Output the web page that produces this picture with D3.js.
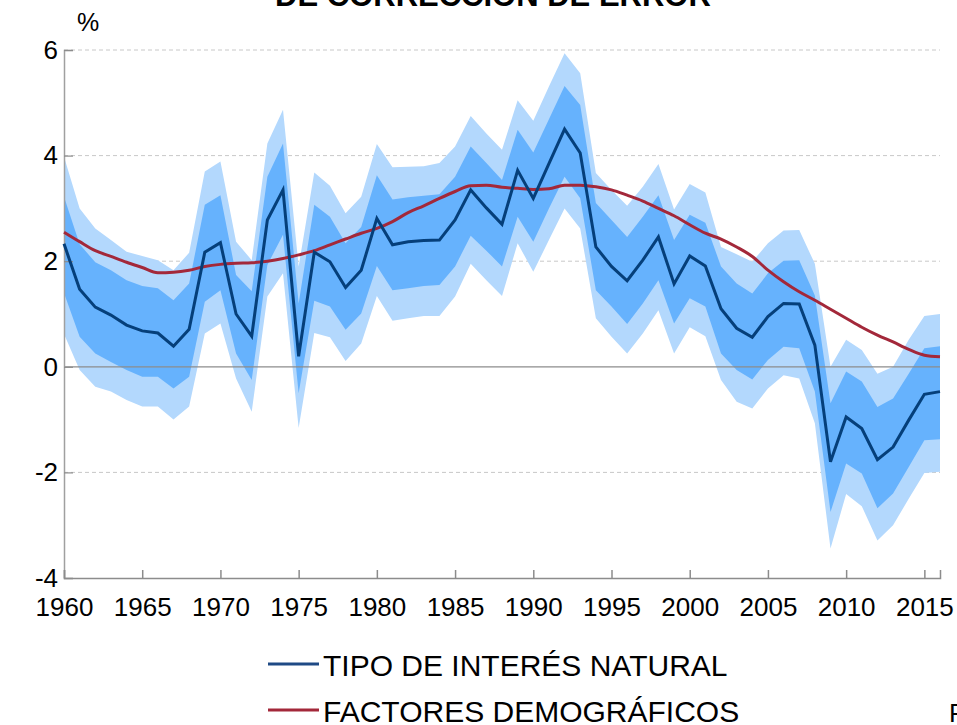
<!DOCTYPE html>
<html>
<head>
<meta charset="utf-8">
<script src="https://cdn.jsdelivr.net/npm/d3@7"></script>
<style>
  body { margin: 0; background: #fff; }
  svg { display: block; font-family: "Liberation Sans", Arial, sans-serif; }
</style>
</head>
<body>
<div id="chart"></div>
<script>
// Years on the x axis
const years = [1960,1961,1962,1963,1964,1965,1966,1967,1968,1969,
               1970,1971,1972,1973,1974,1975,1976,1977,1978,1979,
               1980,1981,1982,1983,1984,1985,1986,1987,1988,1989,
               1990,1991,1992,1993,1994,1995,1996,1997,1998,1999,
               2000,2001,2002,2003,2004,2005,2006,2007,2008,2009,
               2010,2011,2012,2013,2014,2015,2016];

// Natural rate of interest (central estimate)
const naturalRate = [2.33,1.47,1.13,0.98,0.79,0.68,0.64,0.39,0.71,2.17,
                     2.35,1.00,0.58,2.78,3.35,0.20,2.17,1.99,1.50,1.83,
                     2.81,2.31,2.37,2.39,2.40,2.78,3.35,3.01,2.70,3.72,
                     3.19,3.85,4.50,4.05,2.27,1.90,1.63,2.02,2.46,1.57,
                     2.10,1.91,1.10,0.73,0.56,0.95,1.20,1.19,0.41,-1.80,
                     -0.95,-1.17,-1.76,-1.52,-1.01,-0.52,-0.47];

// Outer band (light blue)
const outerHigh = [3.98,3.00,2.62,2.40,2.18,2.10,2.02,1.83,2.16,3.70,
                   3.89,2.37,2.02,4.23,4.87,1.90,3.68,3.43,2.91,3.22,
                   4.22,3.78,3.79,3.80,3.86,4.17,4.75,4.42,4.11,5.05,
                   4.66,5.31,5.94,5.56,3.67,3.35,3.05,3.41,3.84,2.98,
                   3.46,3.30,2.27,2.13,1.99,2.34,2.58,2.59,1.95,0.00,
                   0.51,0.32,-0.13,0.00,0.51,0.96,1.00];
const outerLow = [0.62,-0.06,-0.38,-0.47,-0.63,-0.75,-0.75,-1.00,-0.75,0.63,
                  0.82,-0.22,-0.85,1.33,1.77,-1.16,0.64,0.56,0.11,0.44,
                  1.34,0.87,0.92,0.96,0.96,1.33,1.95,1.64,1.34,2.34,
                  1.80,2.40,3.00,2.62,0.92,0.57,0.25,0.63,1.07,0.25,
                  0.75,0.58,-0.25,-0.66,-0.79,-0.41,-0.16,-0.22,-1.07,-3.44,
                  -2.41,-2.64,-3.29,-3.00,-2.50,-2.01,-1.99];

// Inner band (mid blue)
const innerHigh = [3.22,2.32,1.98,1.83,1.64,1.53,1.49,1.26,1.58,3.07,
                   3.25,1.74,1.43,3.60,4.23,1.20,3.07,2.84,2.34,2.65,
                   3.63,3.17,3.21,3.24,3.27,3.60,4.17,3.86,3.54,4.49,
                   4.06,4.69,5.32,4.96,3.10,2.78,2.46,2.84,3.25,2.40,
                   2.88,2.73,1.90,1.58,1.39,1.77,2.01,2.02,1.35,-0.69,
                   -0.09,-0.28,-0.76,-0.60,-0.13,0.35,0.39];
const innerLow = [1.40,0.57,0.25,0.09,-0.06,-0.19,-0.19,-0.41,-0.19,1.23,
                  1.45,0.25,-0.25,1.93,2.50,-0.50,1.25,1.14,0.70,1.01,
                  1.91,1.45,1.49,1.53,1.55,1.90,2.48,2.20,1.90,2.84,
                  2.37,3.00,3.60,3.19,1.45,1.14,0.81,1.20,1.64,0.82,
                  1.30,1.14,0.25,-0.06,-0.24,0.13,0.38,0.35,-0.47,-2.75,
                  -1.83,-2.02,-2.68,-2.40,-1.90,-1.39,-1.37];

// Demographic factors
const demographic = [2.55,2.37,2.20,2.09,1.98,1.88,1.78,1.79,1.83,1.90,
                     1.94,1.96,1.97,2.00,2.05,2.12,2.20,2.31,2.42,2.53,
                     2.62,2.75,2.92,3.05,3.19,3.32,3.43,3.44,3.40,3.38,
                     3.36,3.37,3.44,3.44,3.41,3.35,3.25,3.14,3.00,2.86,
                     2.69,2.53,2.42,2.27,2.09,1.83,1.61,1.42,1.26,1.09,
                     0.92,0.75,0.60,0.47,0.33,0.22,0.19];

const yTicks = [-4, -2, 0, 2, 4, 6];
const xTicks = [1960,1965,1970,1975,1980,1985,1990,1995,2000,2005,2010,2015];
const seriesNames = ['TIPO DE INTERÉS NATURAL', 'FACTORES DEMOGRÁFICOS'];

const width = 957, height = 725;
const plot = { left: 64, right: 940, top: 50, bottom: 578 };

const svg = d3.select('#chart').append('svg')
    .attr('width', width)
    .attr('height', height);

const x = d3.scaleLinear().domain([1960, 2016]).range([plot.left, plot.right]);
const y = d3.scaleLinear().domain([-4, 6]).range([plot.bottom, plot.top]);

const rows = years.map((yr, i) => ({
    year: yr, mid: naturalRate[i],
    oh: outerHigh[i], ol: outerLow[i],
    ih: innerHigh[i], il: innerLow[i],
    demo: demographic[i]
}));

// Title (cut off at the top in the original)
svg.append('text')
    .attr('x', 493).attr('y', 6)
    .attr('text-anchor', 'middle')
    .style('font-size', '31px')
    .style('font-weight', 'bold')
    .text('DE CORRECCIÓN DE ERROR');

// Gridlines
svg.append('g').selectAll('line')
    .data(yTicks.filter(t => t !== -4 && t !== 0))
    .enter().append('line')
    .attr('x1', plot.left).attr('x2', plot.right)
    .attr('y1', d => y(d)).attr('y2', d => y(d))
    .attr('stroke', '#c8c8c8')
    .attr('stroke-width', 1)
    .attr('stroke-dasharray', '4,3');

// Bands
const outerArea = d3.area().x(d => x(d.year)).y0(d => y(d.ol)).y1(d => y(d.oh));
const innerArea = d3.area().x(d => x(d.year)).y0(d => y(d.il)).y1(d => y(d.ih));

svg.append('path').datum(rows)
    .attr('d', outerArea)
    .attr('fill', '#b3d8fd');
svg.append('path').datum(rows)
    .attr('d', innerArea)
    .attr('fill', '#66b2fd');

// Zero line
svg.append('line')
    .attr('x1', plot.left).attr('x2', plot.right)
    .attr('y1', y(0)).attr('y2', y(0))
    .attr('stroke', '#8c8c8c')
    .attr('stroke-width', 1.2);

// Axes
const yAxis = d3.axisLeft(y).tickValues(yTicks).tickSize(-9).tickPadding(15).tickFormat(d3.format('d'));
const gy = svg.append('g').attr('transform', `translate(${plot.left},0)`).call(yAxis);
gy.select('.domain').attr('stroke', '#a0a0a0').attr('stroke-width', 1.5);
gy.selectAll('.tick line').attr('stroke', '#8c8c8c').attr('stroke-width', 1.2);
gy.selectAll('.tick text')
    .style('font-size', '26px')
    .style('font-family', '"Liberation Sans", Arial, sans-serif')
    .attr('fill', '#000')
    .attr('x', -6)
    .text(d => d);

const xAxis = d3.axisBottom(x).tickValues(xTicks).tickSize(-8).tickPadding(20).tickFormat(d3.format('d'));
const gx = svg.append('g').attr('transform', `translate(0,${plot.bottom})`).call(xAxis);
gx.select('.domain').attr('stroke', '#8c8c8c').attr('stroke-width', 1.5);
gx.selectAll('.tick line').attr('stroke', '#8c8c8c').attr('stroke-width', 1.5);
gx.selectAll('.tick text')
    .style('font-size', '26px')
    .style('font-family', '"Liberation Sans", Arial, sans-serif')
    .attr('fill', '#000');

// Unit label
svg.append('text')
    .attr('x', 88).attr('y', 31)
    .attr('text-anchor', 'middle')
    .style('font-size', '25px')
    .text('%');

// Lines
const midLine = d3.line().x(d => x(d.year)).y(d => y(d.mid));
const demoLine = d3.line().x(d => x(d.year)).y(d => y(d.demo)).curve(d3.curveMonotoneX);

svg.append('path').datum(rows)
    .attr('d', demoLine)
    .attr('fill', 'none')
    .attr('stroke', '#a3283a')
    .attr('stroke-width', 3);

svg.append('path').datum(rows)
    .attr('d', midLine)
    .attr('fill', 'none')
    .attr('stroke', '#053f7a')
    .attr('stroke-width', 3)
    .attr('stroke-linejoin', 'miter');

// Legend
const legendColors = ['#1f4a85', '#a3283a'];
const legend = svg.append('g').selectAll('g')
    .data(seriesNames)
    .enter().append('g')
    .attr('transform', (d, i) => `translate(268, ${664 + i * 46})`);

legend.append('line')
    .attr('x1', 0).attr('x2', 51)
    .attr('y1', 0).attr('y2', 0)
    .attr('stroke', (d, i) => legendColors[i])
    .attr('stroke-width', 3);

legend.append('text')
    .attr('x', 55).attr('y', 12)
    .style('font-size', '30px')
    .text(d => d);

// Source note, cut off at the right edge
svg.append('text')
    .attr('x', 949).attr('y', 722)
    .style('font-size', '26px')
    .text('FUENTE: Banco de España');
</script>
</body>
</html>
